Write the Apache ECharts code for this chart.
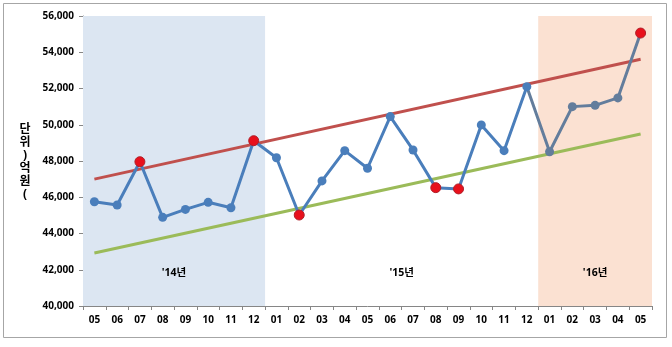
<!DOCTYPE html>
<html>
<head>
<meta charset="utf-8">
<script src="https://cdn.jsdelivr.net/npm/echarts@6/dist/echarts.min.js"></script>
<style>
  html, body { margin: 0; padding: 0; background: #ffffff; }
  #chart { width: 672px; height: 347px; }
</style>
</head>
<body>
<div id="chart"></div>
<script>
// Monthly balance, May 2014 – May 2016 (unit: 100 million won)
const months = ['05','06','07','08','09','10','11','12',
                '01','02','03','04','05','06','07','08','09','10','11','12',
                '01','02','03','04','05'];
const values = [45750, 45570, 47960, 44890, 45330, 45720, 45420, 49120,
                48180, 45020, 46900, 48570, 47600, 50450, 48610, 46530, 46460, 49990, 48570, 52100,
                48510, 51000, 51070, 51480, 55060];
// months that sit outside the trend channel
const outliers = [2, 7, 9, 15, 16, 24];
// first month drawn in the 2016 colour
const recentStart = 20;

// upper and lower trend lines: [first month value, last month value]
const upperTrend = [47000, 53610];
const lowerTrend = [42920, 49490];

// year sections: label and [start, end) month index
const yearLabels = ["'14년", "'15년", "'16년"];
const yearSpans = [[0, 8], [8, 20], [20, 25]];
const yearColors = ['#dce6f2', 'rgba(0,0,0,0)', '#fbe1d2'];

const yTicks = { min: 40000, max: 56000, step: 2000 };

// vertical axis title, one glyph per line
const yTitleGlyphs = ['단', '위', ')', '억', '원', '('];

const FONT = "'Open Sans', 'Noto Sans CJK KR', sans-serif";
const BLUE = '#4a7ebb';
const GRAY = '#637d9c';

function pointItem(i, v) {
  const isOut = outliers.indexOf(i) >= 0;
  return {
    value: v,
    symbolSize: isOut ? 10 : 9,
    itemStyle: isOut
      ? { color: '#e8101c', borderColor: '#b0202a', borderWidth: 1 }
      : undefined
  };
}

const mainData = values.map((v, i) => i <= recentStart - 1 ? pointItem(i, v) : null);
const recentData = values.map((v, i) => {
  if (i < recentStart - 1) return null;
  if (i === recentStart - 1) return { value: v, symbol: 'none' };
  return pointItem(i, v);
});

const last = months.length - 1;

const titleGraphics = yTitleGlyphs.map((g, k) => ({
  type: 'text',
  x: 25, y: 130 + k * 13,
  style: {
    text: g, fontFamily: FONT, fontWeight: 'bold', fontSize: 12,
    fill: '#000', align: 'center', verticalAlign: 'middle'
  }
}));

const chart = echarts.init(document.getElementById('chart'), null, { renderer: 'canvas' });
chart.setOption({
  animation: false,
  backgroundColor: '#ffffff',
  grid: { left: 83, right: 20, top: 16, bottom: 41 },
  xAxis: [
    {
      type: 'category',
      data: months,
      boundaryGap: true,
      axisLine: { lineStyle: { color: '#868686', width: 1 } },
      axisTick: { show: true, length: 4, lineStyle: { color: '#868686' } },
      axisLabel: { color: '#000', fontFamily: FONT, fontWeight: 'bold', fontSize: 10, margin: 9 }
    },
    {
      // helper axis measured in month slots, for the year sections
      type: 'value', min: 0, max: months.length, show: false
    }
  ],
  yAxis: {
    type: 'value',
    min: yTicks.min, max: yTicks.max, interval: yTicks.step,
    splitLine: { show: false },
    axisLine: { show: true, lineStyle: { color: '#868686', width: 1 } },
    axisTick: { show: true, length: 4, lineStyle: { color: '#868686' } },
    axisLabel: {
      color: '#000', fontFamily: FONT, fontWeight: 'bold', fontSize: 10, margin: 9,
      formatter: v => v.toLocaleString('en-US')
    }
  },
  graphic: [
    {
      type: 'rect', left: 3, top: 3, z: -10, silent: true,
      shape: { width: 663, height: 334 },
      style: { fill: 'rgba(0,0,0,0)', stroke: '#a6a6a6', lineWidth: 1 }
    }
  ].concat(titleGraphics),
  series: [
    {
      name: 'sections',
      type: 'line',
      xAxisIndex: 1,
      data: [],
      silent: true,
      markArea: {
        silent: true,
        data: yearSpans.map((s, k) => [
          {
            xAxis: s[0],
            itemStyle: { color: yearColors[k] },
            label: {
              show: true, position: 'insideBottom', distance: 28,
              formatter: yearLabels[k],
              color: '#000', fontFamily: FONT, fontWeight: 'bold', fontSize: 10.5
            }
          },
          { xAxis: s[1] }
        ])
      }
    },
    {
      name: 'upper',
      type: 'line',
      data: [[0, upperTrend[0]], [last, upperTrend[1]]],
      symbol: 'none',
      lineStyle: { color: '#c0504d', width: 3 },
      z: 3
    },
    {
      name: 'lower',
      type: 'line',
      data: [[0, lowerTrend[0]], [last, lowerTrend[1]]],
      symbol: 'none',
      lineStyle: { color: '#9bbb59', width: 3 },
      z: 3
    },
    {
      name: 'balance',
      type: 'line',
      data: mainData,
      symbol: 'circle',
      symbolSize: 9,
      itemStyle: { color: BLUE },
      lineStyle: { color: BLUE, width: 3 },
      z: 5
    },
    {
      name: 'balance-recent',
      type: 'line',
      data: recentData,
      symbol: 'circle',
      symbolSize: 9,
      itemStyle: { color: GRAY },
      lineStyle: { color: GRAY, width: 3 },
      z: 5
    }
  ]
});
</script>
</body>
</html>
